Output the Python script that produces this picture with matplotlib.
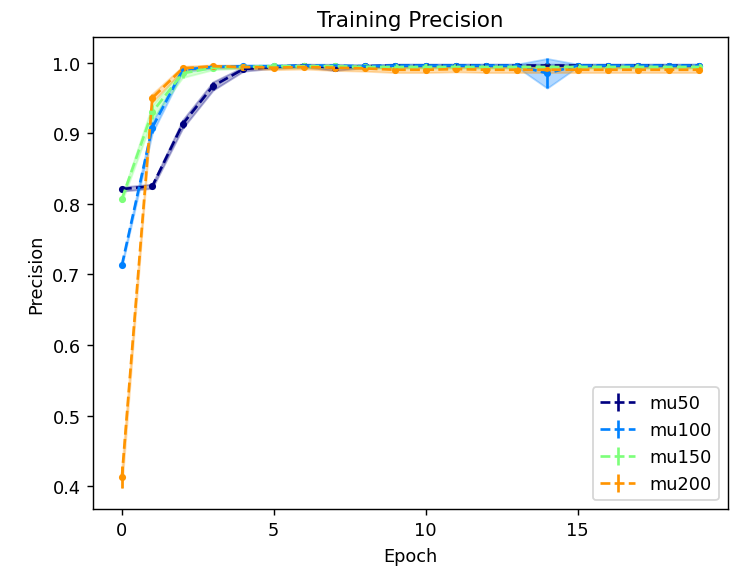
import matplotlib
matplotlib.use("Agg")
import matplotlib.pyplot as plt
import numpy as np

epochs = np.arange(20)
labels = ['mu50', 'mu100', 'mu150', 'mu200']
xticks = [0, 5, 10, 15]

mu50 = [0.821, 0.825, 0.913, 0.967, 0.991, 0.994, 0.996, 0.993, 0.995, 0.996,
        0.996, 0.996, 0.996, 0.996, 0.996, 0.996, 0.996, 0.996, 0.996, 0.996]
mu100 = [0.713, 0.908, 0.990, 0.994, 0.995, 0.995, 0.996, 0.996, 0.995, 0.996,
         0.996, 0.996, 0.996, 0.996, 0.985, 0.996, 0.996, 0.996, 0.996, 0.996]
mu150 = [0.807, 0.930, 0.985, 0.993, 0.994, 0.995, 0.995, 0.995, 0.994, 0.994,
         0.994, 0.994, 0.994, 0.994, 0.994, 0.994, 0.994, 0.994, 0.994, 0.994]
mu200 = [0.413, 0.950, 0.992, 0.995, 0.994, 0.993, 0.994, 0.993, 0.992, 0.990,
         0.990, 0.991, 0.990, 0.990, 0.990, 0.990, 0.990, 0.990, 0.990, 0.990]

std50 = [0.003, 0.003, 0.006, 0.006, 0.003, 0.002, 0.002, 0.004, 0.002, 0.002,
         0.002, 0.002, 0.002, 0.002, 0.002, 0.002, 0.002, 0.002, 0.002, 0.002]
std100 = [0.002, 0.008, 0.003, 0.002, 0.002, 0.002, 0.002, 0.002, 0.002, 0.002,
          0.002, 0.002, 0.002, 0.002, 0.021, 0.002, 0.002, 0.002, 0.002, 0.002]
std150 = [0.004, 0.010, 0.006, 0.003, 0.002, 0.002, 0.002, 0.002, 0.002, 0.002,
          0.002, 0.002, 0.002, 0.002, 0.002, 0.002, 0.002, 0.002, 0.002, 0.002]
std200 = [0.015, 0.006, 0.003, 0.002, 0.002, 0.003, 0.003, 0.004, 0.004, 0.004,
          0.004, 0.004, 0.004, 0.004, 0.004, 0.004, 0.004, 0.004, 0.004, 0.004]

means = [mu50, mu100, mu150, mu200]
stds = [std50, std100, std150, std200]
colors = plt.cm.jet([0.0, 0.25, 0.5, 0.75])

# the reference looks rendered at ~128 dpi
fig, ax = plt.subplots(figsize=(5.75, 4.445), dpi=128)
for m, s, c, lab in zip(means, stds, colors, labels):
    m = np.array(m)
    s = np.array(s)
    ax.errorbar(epochs, m, yerr=s, fmt='--', color=c, label=lab)
    ax.plot(epochs, m, '.', color=c)
    ax.fill_between(epochs, m - s, m + s, color=c, alpha=0.3)

ax.set_xticks(xticks)
ax.set_title('Training Precision')
ax.set_xlabel('Epoch')
ax.set_ylabel('Precision')
ax.legend(loc='lower right')
fig.subplots_adjust(left=0.1264, right=0.989, top=0.9332, bottom=0.1037)
fig.savefig('out.png')
